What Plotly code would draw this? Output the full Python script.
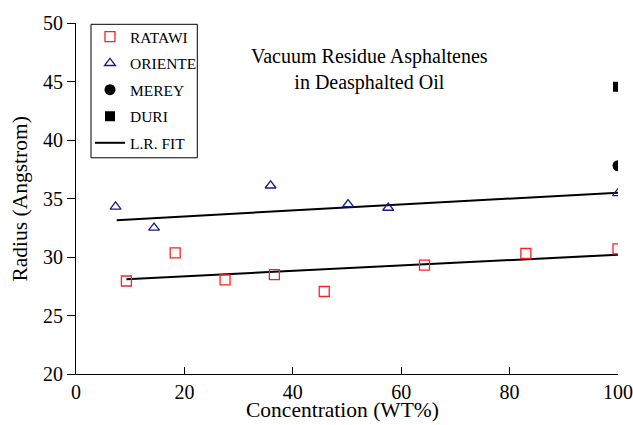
import plotly.graph_objects as go

# RATAWI (open red squares)
ratawi_x = [9.3, 18.3, 27.5, 36.6, 45.8, 64.3, 83.0, 100.0]
ratawi_y = [27.95, 30.35, 28.05, 28.5, 27.05, 29.3, 30.3, 30.7]

# ORIENTE (open blue triangles)
oriente_x = [7.3, 14.4, 35.9, 50.2, 57.6, 100.0]
oriente_y = [34.3, 32.5, 36.1, 34.5, 34.2, 35.45]

# MEREY / DURI single points at 100 %
merey_x = [100.0]
merey_y = [37.8]
duri_x = [100.0]
duri_y = [44.55]

# linear regression lines
fit_oriente_x = [7.5, 100.0]
fit_oriente_y = [33.15, 35.5]
fit_ratawi_x = [9.3, 100.0]
fit_ratawi_y = [28.1, 30.2]

font = "Liberation Serif"

fig = go.Figure()
fig.add_trace(go.Scatter(x=fit_oriente_x, y=fit_oriente_y, mode="lines", name="L.R. FIT",
                         line=dict(color="black", width=2), legendgroup="e", legendrank=5))
fig.add_trace(go.Scatter(x=fit_ratawi_x, y=fit_ratawi_y, mode="lines", showlegend=False,
                         line=dict(color="black", width=2), legendgroup="e"))
fig.add_trace(go.Scatter(x=ratawi_x, y=ratawi_y, mode="markers", name="RATAWI", legendgroup="a", legendrank=1,
                         marker=dict(symbol="square-open", size=10, color="#ff2020", line=dict(width=1.3))))
fig.add_trace(go.Scatter(x=oriente_x, y=oriente_y, mode="markers", name="ORIENTE", legendgroup="b", legendrank=2,
                         marker=dict(symbol="triangle-up-open", size=9.5, color="#1a1a8c", line=dict(width=1.3))))
fig.add_trace(go.Scatter(x=merey_x, y=merey_y, mode="markers", name="MEREY", legendgroup="c", legendrank=3,
                         marker=dict(symbol="circle", size=11, color="black")))
fig.add_trace(go.Scatter(x=duri_x, y=duri_y, mode="markers", name="DURI", legendgroup="d", legendrank=4,
                         marker=dict(symbol="square", size=10, color="black")))

fig.add_annotation(x=54.2, y=46.0, xref="x", yref="y", showarrow=False,
                   text="Vacuum Residue Asphaltenes<br>in Deasphalted Oil",
                   font=dict(family=font, size=20, color="black"))

# axis titles placed as annotations so their distance from the axes is exact
fig.add_annotation(x=0.492, y=0, xref="paper", yref="paper", yanchor="middle", yshift=-36,
                   showarrow=False, text="Concentration (WT%)",
                   font=dict(family=font, size=21.5, color="black"))
fig.add_annotation(x=0, y=0.497, xref="paper", yref="paper", xanchor="center", xshift=-56,
                   textangle=-90, showarrow=False, text="Radius (Angstrom)",
                   font=dict(family=font, size=21.5, color="black"))

# legend frame drawn as a shape (tighter than plotly's own legend border)
fig.add_shape(type="rect", xref="paper", yref="paper",
              x0=0.0277, x1=0.2238, y0=0.616, y1=0.9963,
              line=dict(color="black", width=1), fillcolor="white", layer="below")

fig.update_layout(
    width=633, height=425,
    margin=dict(l=76, r=15, t=23, b=51),
    paper_bgcolor="white", plot_bgcolor="rgba(0,0,0,0)",
    font=dict(family=font, size=20, color="black"),
    legend=dict(x=0.0258, y=1.0085, xanchor="left", yanchor="top",
                borderwidth=0, bgcolor="rgba(0,0,0,0)",
                font=dict(family=font, size=15.5), tracegroupgap=3.4,
                traceorder="grouped"),
)
fig.update_xaxes(range=[0, 100], dtick=20, showgrid=False, zeroline=False, automargin=False,
                 showline=True, linecolor="black", linewidth=1,
                 ticks="inside", ticklen=7, tickcolor="black")
fig.update_yaxes(range=[20, 50], dtick=5, showgrid=False, zeroline=False, automargin=False,
                 showline=True, linecolor="black", linewidth=1,
                 ticks="outside", ticklen=8, tickcolor="black")

# drop the default 8px page margin so the 633x425 figure fills the window
fig.write_html("out.html", config={"displayModeBar": False},
               post_script="document.body.style.margin='0';document.body.style.overflow='hidden';")
